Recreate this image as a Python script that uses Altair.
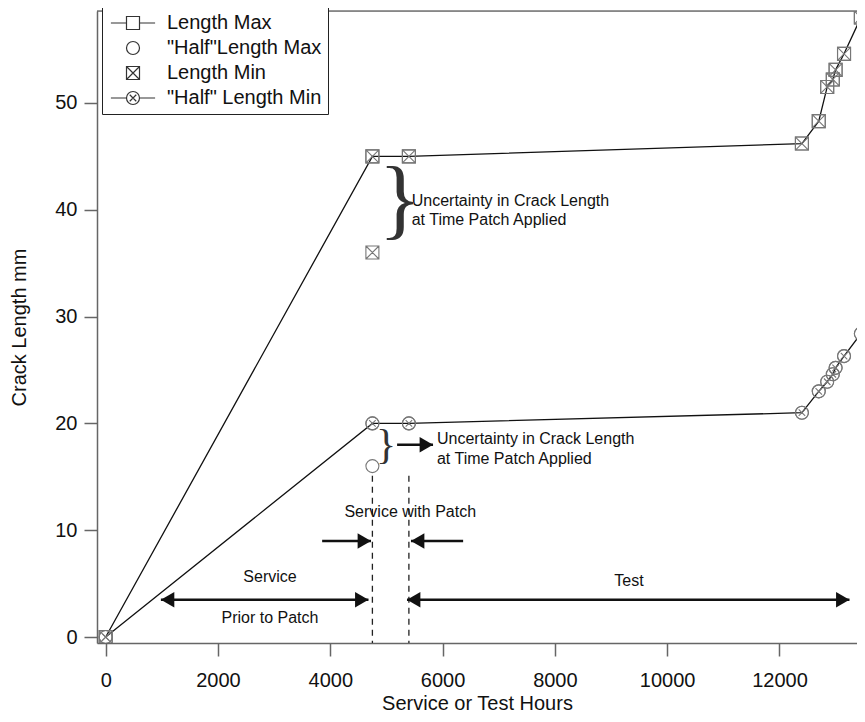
import altair as alt
import pandas as pd

# ---------------- data ----------------
hours = [0, 4750, 5400, 12400, 12700, 12850, 12950, 13000, 13150, 13450]
length_max = [0, 45.0, 45.0, 46.2, 48.3, 51.5, 52.2, 53.1, 54.6, 58.0]
length_min = [0, 45.0, 45.0, 46.2, 48.3, 51.5, 52.2, 53.1, 54.6, 58.0]
half_length_max = [0, 20.0, 20.0, 21.0, 23.0, 23.9, 24.6, 25.2, 26.3, 28.4]
half_length_min = [0, 20.0, 20.0, 21.0, 23.0, 23.9, 24.6, 25.2, 26.3, 28.4]
patch_hours = 4750
patch_end_hours = 5400
length_min_at_patch = 36.0
half_length_max_at_patch = 16.0

series_names = ["Length Max", "\"Half\"Length Max", "Length Min", "\"Half\" Length Min"]
x_ticks = [0, 2000, 4000, 6000, 8000, 10000, 12000]
y_ticks = [0, 10, 20, 30, 40, 50]
x_domain = [-155, 13381]
y_domain = [-0.56, 58.61]

note_hours = [5450, 5450, 5900, 5900]
note_values = [40.8, 39.0, 18.5, 16.7]
note_labels = ["Uncertainty in Crack Length", "at Time Patch Applied",
               "Uncertainty in Crack Length", "at Time Patch Applied"]

center_hours = [2926, 2926, 9320, 5424]
center_values = [5.6, 1.8, 5.2, 11.7]
center_labels = ["Service", "Prior to Patch", "Test", "Service with Patch"]

big_brace_hours = [5241]
big_brace_values = [40.4]
small_brace_hours = [4992]
small_brace_values = [17.8]

arrow_start = [5190, 3855, 6366, 983, 5366]
arrow_end = [5830, 4725, 5437, 4680, 13247]
arrow_level = [18.0, 9.0, 9.0, 3.5, 3.5]
arrow_both = [False, False, False, True, True]

dash_top = 15.1

# ---------------- styling ----------------
FONT = "Liberation Sans"
INK = "#111111"
MARK_GRAY = "#777777"

SQUARE = "M-1,-1L1,-1L1,1L-1,1Z"
SQUARE_X = "M-1,-1L1,-1L1,1L-1,1ZM-1,-1L1,1M1,-1L-1,1"
CIRCLE = "M1,0A1,1,0,1,1,-1,0A1,1,0,1,1,1,0Z"
CIRCLE_X = CIRCLE + "M-0.5,-0.5L0.5,0.5M0.5,-0.5L-0.5,0.5"
LEG_SQUARE = "M-3.4,0L-1,0M-1,-1L1,-1L1,1L-1,1ZM1,0L3.4,0"
LEG_CIRCLE_X = "M-3.4,0L-1,0M1,0A1,1,0,1,1,-1,0A1,1,0,1,1,1,0ZM1,0L3.4,0M-0.5,-0.5L0.5,0.5M0.5,-0.5L-0.5,0.5"
HEAD_RIGHT = "M-1.73,-1L0,0L-1.73,1Z"
HEAD_LEFT = "M1.73,-1L0,0L1.73,1Z"

x_scale = alt.Scale(domain=x_domain, nice=False, zero=False)
y_scale = alt.Scale(domain=y_domain, nice=False, zero=False)

x_axis = alt.Axis(values=x_ticks, format="d", title="Service or Test Hours", grid=False,
                  tickSize=13, tickWidth=1.5, tickColor="#666666", domainColor="#666666",
                  domainWidth=1.5, labelPadding=14, titlePadding=3, labelFlush=False,
                  labelFont=FONT, labelFontSize=20, labelColor=INK,
                  titleFont=FONT, titleFontSize=20, titleColor=INK, titleFontWeight="normal")
y_axis = alt.Axis(values=y_ticks, title="Crack Length mm", grid=False,
                  tickSize=13, tickWidth=1.5, tickColor="#666666", domainColor="#666666",
                  domainWidth=1.5, labelPadding=7, titlePadding=25, labelFlush=False,
                  labelFont=FONT, labelFontSize=20, labelColor=INK,
                  titleFont=FONT, titleFontSize=20, titleColor=INK, titleFontWeight="normal")

X = alt.X("h:Q", scale=x_scale, axis=x_axis)
Y = alt.Y("v:Q", scale=y_scale, axis=y_axis)

# ---------------- tables ----------------
upper_df = pd.DataFrame({"h": hours, "v": length_max})
lenmin_df = pd.DataFrame({"h": hours + [patch_hours], "v": length_min + [length_min_at_patch]})
halfmin_df = pd.DataFrame({"h": hours, "v": half_length_min})
halfmax_df = pd.DataFrame({"h": hours + [patch_hours], "v": half_length_max + [half_length_max_at_patch]})

notes_df = pd.DataFrame({"h": note_hours, "v": note_values, "t": note_labels})
center_df = pd.DataFrame({"h": center_hours, "v": center_values, "t": center_labels})
big_brace_df = pd.DataFrame({"h": big_brace_hours, "v": big_brace_values, "t": ["}"]})
small_brace_df = pd.DataFrame({"h": small_brace_hours, "v": small_brace_values, "t": ["}"]})

shaft_df = pd.DataFrame({"h": arrow_start, "h2": arrow_end, "v": arrow_level})
right_heads, left_heads = [], []
for s, e, lv, both in zip(arrow_start, arrow_end, arrow_level, arrow_both):
    (right_heads if e > s else left_heads).append({"h": e, "v": lv})
    if both:
        (left_heads if e > s else right_heads).append({"h": s, "v": lv})
right_df = pd.DataFrame(right_heads)
left_df = pd.DataFrame(left_heads)

dash_df = pd.DataFrame({"h": [patch_hours, patch_end_hours], "v": [dash_top, dash_top],
                        "v2": [y_domain[0], y_domain[0]]})
frame_df = pd.DataFrame({"h": [x_domain[0]], "h2": [x_domain[1]], "v": [y_domain[1]]})
legend_df = pd.DataFrame({"series": series_names})

# ---------------- layers ----------------
upper_line = alt.Chart(upper_df).mark_line(color=INK, strokeWidth=1.3, clip=True).encode(x=X, y=Y)
half_line = alt.Chart(halfmin_df).mark_line(color=INK, strokeWidth=1.3, clip=True).encode(x=X, y=Y)

def pts(df, shape):
    return alt.Chart(df).mark_point(shape=shape, size=169, filled=False, color=MARK_GRAY,
                                    strokeWidth=1.1, opacity=1, clip=True).encode(x=X, y=Y)

lenmax_pts = pts(upper_df, SQUARE)
lenmin_pts = pts(lenmin_df, SQUARE_X)
halfmax_pts = pts(halfmax_df, CIRCLE)
halfmin_pts = pts(halfmin_df, CIRCLE_X)

frame = alt.Chart(frame_df).mark_rule(color="#333333", strokeWidth=1.2).encode(
    x=X, x2="h2:Q", y=Y)

dashes = alt.Chart(dash_df).mark_rule(color="#222222", strokeWidth=1.3, strokeDash=[6, 5]).encode(
    x=X, y=Y, y2="v2:Q")

shafts = alt.Chart(shaft_df).mark_rule(color=INK, strokeWidth=2.5).encode(x=X, x2="h2:Q", y=Y)
heads_r = alt.Chart(right_df).mark_point(shape=HEAD_RIGHT, size=240, filled=True, color=INK,
                                         opacity=1, strokeWidth=0).encode(x=X, y=Y)
heads_l = alt.Chart(left_df).mark_point(shape=HEAD_LEFT, size=240, filled=True, color=INK,
                                        opacity=1, strokeWidth=0).encode(x=X, y=Y)

notes = alt.Chart(notes_df).mark_text(font=FONT, fontSize=16, align="left", baseline="middle",
                                      color=INK).encode(x=X, y=Y, text="t:N")
centers = alt.Chart(center_df).mark_text(font=FONT, fontSize=16, align="center", baseline="middle",
                                         color=INK).encode(x=X, y=Y, text="t:N")
big_brace = alt.Chart(big_brace_df).mark_text(font="Liberation Serif", fontSize=88, align="center",
                                              baseline="middle", dy=-4, color="#333333").encode(
    x=X, y=Y, text="t:N")
small_brace = alt.Chart(small_brace_df).mark_text(font="Liberation Serif", fontSize=42, align="center",
                                                  baseline="middle", dy=-2, color="#333333").encode(
    x=X, y=Y, text="t:N")

legend_layer = alt.Chart(legend_df).mark_point(filled=False, color="#333333", opacity=1).encode(
    shape=alt.Shape("series:N",
                    scale=alt.Scale(domain=series_names,
                                    range=[LEG_SQUARE, CIRCLE, SQUARE_X, LEG_CIRCLE_X]),
                    legend=alt.Legend(orient="none", legendX=5, legendY=-4, title=None,
                                      padding=6, strokeColor="#222222", fillColor="white",
                                      cornerRadius=0, labelFont=FONT, labelFontSize=20,
                                      labelColor=INK, labelOffset=24, symbolOffset=15,
                                      symbolSize=169, symbolStrokeWidth=1.2,
                                      symbolStrokeColor="#333333", symbolFillColor="transparent",
                                      rowPadding=5, labelLimit=400))
).transform_filter("false")

chart = alt.layer(
    frame, upper_line, half_line, dashes,
    lenmax_pts, lenmin_pts, halfmax_pts, halfmin_pts,
    shafts, heads_r, heads_l, notes, centers, big_brace, small_brace,
    legend_layer,
).properties(
    width=760, height=632,
    padding={"left": 89, "top": 3, "right": 0, "bottom": 71},
    autosize=alt.AutoSizeParams(type="none"),
).configure_view(stroke=None).configure(background="white")

chart.save("out.html", embed_options={"renderer": "svg", "actions": False})
